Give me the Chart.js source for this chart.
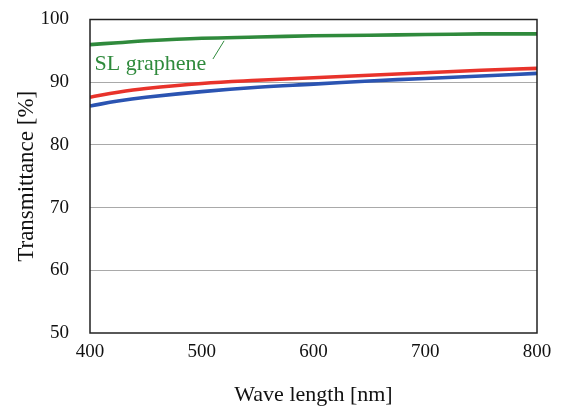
<!DOCTYPE html>
<html>
<head>
<meta charset="utf-8">
<script src="https://cdn.jsdelivr.net/npm/chart.js@4"></script>
<style>
  html, body { margin: 0; padding: 0; background: #fff; }
  #wrap { width: 563px; height: 408px; }
</style>
</head>
<body>
<div id="wrap"><canvas id="chart" width="563" height="408"></canvas></div>
<script>
// =====================
// Data
// =====================
const wavelengths = [400, 425, 450, 500, 550, 600, 650, 700, 750, 800];
const slGraphene  = [96.0, 96.3, 96.6, 97.0, 97.2, 97.4, 97.5, 97.6, 97.7, 97.7];
const redSeries   = [87.6, 88.4, 89.0, 89.8, 90.3, 90.7, 91.1, 91.5, 91.9, 92.2];
const blueSeries  = [86.2, 87.0, 87.6, 88.5, 89.2, 89.7, 90.2, 90.6, 91.0, 91.4];
const yTicks = [50, 60, 70, 80, 90, 100];
const xTicks = [400, 500, 600, 700, 800];

const serif = "'Liberation Serif', 'Times New Roman', serif";

function toPoints(vals) {
  return wavelengths.map((w, i) => ({ x: w, y: vals[i] }));
}

// =====================
// Label "SL graphene" + leader line
// =====================
const labelPlugin = {
  id: "slLabel",
  afterDatasetsDraw(chart) {
    const { ctx, scales } = chart;
    const x = scales.x, y = scales.y;
    ctx.save();
    ctx.fillStyle = "#2f8a3c";
    ctx.font = "22px " + serif;
    ctx.textBaseline = "alphabetic";
    ctx.fillText("SL graphene", x.getPixelForValue(404), y.getPixelForValue(92.0));
    ctx.strokeStyle = "#2f8a3c";
    ctx.lineWidth = 1;
    ctx.beginPath();
    ctx.moveTo(x.getPixelForValue(510), y.getPixelForValue(93.7));
    ctx.lineTo(x.getPixelForValue(520), y.getPixelForValue(96.6));
    ctx.stroke();
    ctx.restore();
  }
};

const frame = {
  id: "frame",
  afterDatasetsDraw(chart) {
    const { ctx, chartArea: a } = chart;
    ctx.save();
    ctx.strokeStyle = "#222";
    ctx.lineWidth = 1.5;
    ctx.strokeRect(a.left, a.top, a.right - a.left, a.bottom - a.top);
    ctx.restore();
  }
};

new Chart(document.getElementById("chart").getContext("2d"), {
  type: "line",
  data: {
    datasets: [
      { data: toPoints(slGraphene), borderColor: "#2f8a3c" },
      { data: toPoints(redSeries), borderColor: "#e8332b" },
      { data: toPoints(blueSeries), borderColor: "#2b54b2" }
    ].map(d => Object.assign(d, {
      borderWidth: 3.6, pointRadius: 0, tension: 0.4, fill: false
    }))
  },
  options: {
    responsive: false,
    animation: false,
    layout: { padding: { top: 19.5, right: 26, left: 0, bottom: 0 } },
    plugins: { legend: { display: false }, tooltip: { enabled: false } },
    scales: {
      x: {
        type: "linear", min: 400, max: 800,
        afterBuildTicks(s) { s.ticks = xTicks.map(v => ({ value: v })); },
        afterFit(s) { s.height = 75; s.paddingLeft = 0; s.paddingRight = 0; },
        grid: { display: false, drawTicks: false },
        border: { display: false },
        ticks: { color: "#111", padding: 8, maxRotation: 0, font: { family: serif, size: 19 } },
        title: { display: true, text: "Wave length [nm]", color: "#111", padding: { top: 19, bottom: 0 },
                 font: { family: serif, size: 22 } }
      },
      y: {
        min: 50, max: 100,
        afterBuildTicks(s) { s.ticks = yTicks.map(v => ({ value: v })); },
        afterFit(s) { s.width = 90; s.paddingTop = 0; s.paddingBottom = 0; },
        grid: { color: ctx => (ctx.tick.value === 50 || ctx.tick.value === 100) ? "rgba(0,0,0,0)" : "#a9a9a9",
                lineWidth: 1, drawTicks: false },
        border: { display: false },
        ticks: { color: "#111", padding: 21, font: { family: serif, size: 19 } },
        title: { display: true, text: "Transmittance [%]", color: "#111", padding: { top: 13, bottom: 0 },
                 font: { family: serif, size: 23 } }
      }
    }
  },
  plugins: [labelPlugin, frame]
});
</script>
</body>
</html>
